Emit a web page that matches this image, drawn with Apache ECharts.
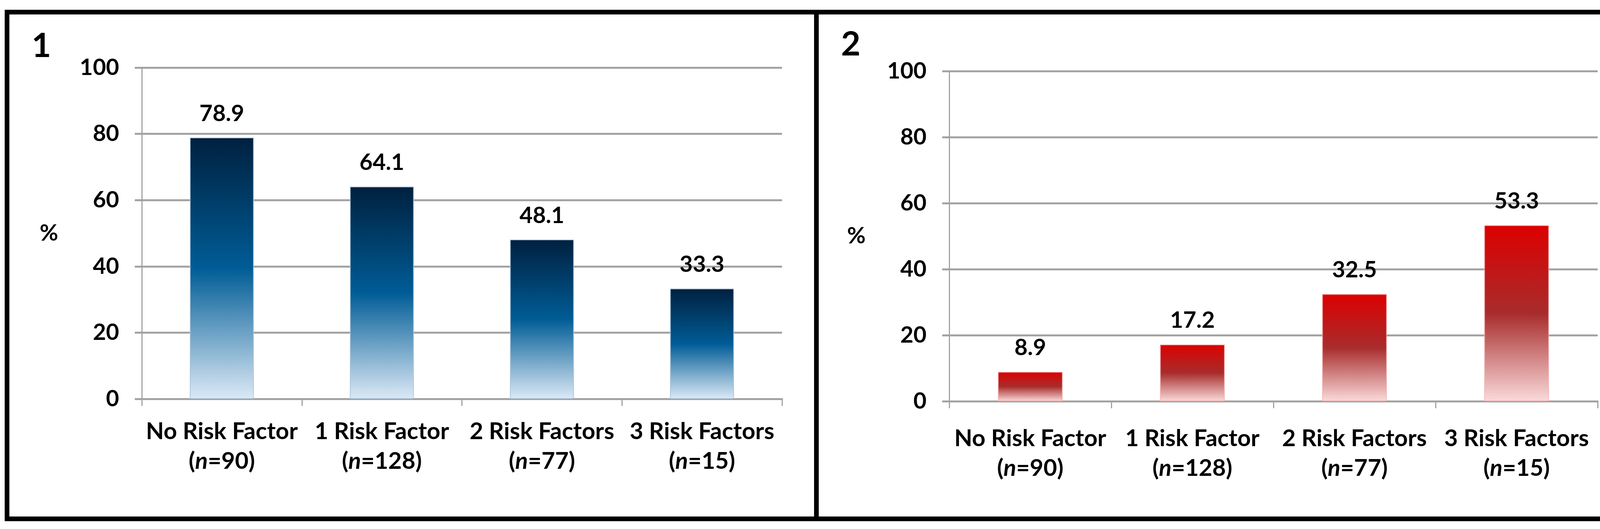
<!DOCTYPE html>
<html>
<head>
<meta charset="utf-8">
<style>
  html, body { margin: 0; padding: 0; background: #ffffff; }
  #chart { width: 4186px; height: 1354px; }
</style>
<script src="https://cdn.jsdelivr.net/npm/echarts@6/dist/echarts.min.js"></script>
</head>
<body>
<div id="chart"></div>
<script>
// ---- data ----
const categories = ['No Risk Factor', '1 Risk Factor', '2 Risk Factors', '3 Risk Factors'];
const sampleSizes = [90, 128, 77, 15];
const panel1Values = [78.9, 64.1, 48.1, 33.3];
const panel2Values = [8.9, 17.2, 32.5, 53.3];
const panelLabels = ['1', '2'];
const yAxisName = '%';
const yMin = 0, yMax = 100, yInterval = 20;

// ---- styling ----
const FONT = "Lato, 'Liberation Sans', sans-serif";
const GRID_GRAY = '#A3A3A3';

const blueGradient = new echarts.graphic.LinearGradient(0, 0, 0, 1, [
  { offset: 0, color: '#00203F' },
  { offset: 0.5, color: '#005C96' },
  { offset: 1, color: '#DCE9F6' }
]);
const redGradient = new echarts.graphic.LinearGradient(0, 0, 0, 1, [
  { offset: 0, color: '#DC0000' },
  { offset: 0.5, color: '#A82C2C' },
  { offset: 1, color: '#FADADA' }
]);

function xAxisFor(gridIndex, margin) {
  return {
    type: 'category',
    gridIndex: gridIndex,
    data: categories,
    axisLine: { show: true, lineStyle: { color: GRID_GRAY, width: 5 } },
    axisTick: { show: true, length: 18, lineStyle: { color: GRID_GRAY, width: 3 } },
    axisLabel: {
      interval: 0,
      margin: margin,
      color: '#000',
      fontFamily: FONT,
      fontSize: 60,
      fontWeight: 'bold',
      lineHeight: 76,
      formatter: function (value, idx) {
        return value + '\n(' + '{i|n}' + '=' + sampleSizes[idx] + ')';
      },
      rich: {
        i: { fontStyle: 'italic', fontWeight: 'bold', fontFamily: FONT, fontSize: 60, lineHeight: 76, color: '#000' }
      }
    }
  };
}

function yAxisFor(gridIndex) {
  return {
    type: 'value',
    gridIndex: gridIndex,
    min: yMin, max: yMax, interval: yInterval,
    name: yAxisName,
    nameLocation: 'middle',
    nameRotate: 0,
    nameGap: 214,
    nameTextStyle: { color: '#000', fontFamily: FONT, fontSize: 58, fontWeight: 'bold',
                     verticalAlign: 'middle', padding: [44, 0, 0, 0] },
    axisLine: { show: true, lineStyle: { color: GRID_GRAY, width: 3 } },
    axisTick: { show: true, length: 18, lineStyle: { color: GRID_GRAY, width: 5 } },
    splitLine: { show: true, lineStyle: { color: GRID_GRAY, width: 5 } },
    axisLabel: { margin: 58, color: '#000', fontFamily: FONT, fontSize: 58, fontWeight: 'bold' }
  };
}

function seriesFor(idx, values, gradient, border) {
  return {
    type: 'bar',
    xAxisIndex: idx,
    yAxisIndex: idx,
    data: values,
    barWidth: '40%',
    itemStyle: { color: gradient, borderColor: border, borderWidth: 2 },
    label: {
      show: true,
      position: 'top',
      distance: 32,
      color: '#000',
      fontFamily: FONT,
      fontSize: 58,
      fontWeight: 'bold',
      formatter: function (p) { return p.value.toFixed(1); }
    }
  };
}

const chart = echarts.init(document.getElementById('chart'), null, { renderer: 'canvas' });
chart.setOption({
  backgroundColor: '#ffffff',
  animation: false,
  title: [
    { text: panelLabels[0], left: 76, top: 70, textStyle: { fontFamily: FONT, fontSize: 86, fontWeight: 'bold', color: '#000' } },
    { text: panelLabels[1], left: 2148, top: 66, textStyle: { fontFamily: FONT, fontSize: 86, fontWeight: 'bold', color: '#000' } }
  ],
  grid: [
    { left: 363, top: 173, width: 1639, height: 848 },
    { left: 2430, top: 182, width: 1660, height: 845 }
  ],
  xAxis: [xAxisFor(0, 46), xAxisFor(1, 58)],
  yAxis: [yAxisFor(0), yAxisFor(1)],
  series: [
    seriesFor(0, panel1Values, blueGradient, 'rgba(170,195,220,0.9)'),
    seriesFor(1, panel2Values, redGradient, 'rgba(245,175,175,0.8)')
  ],
  graphic: [
    { type: 'rect', silent: true, shape: { x: 18, y: 31, width: 4145, height: 1297 },
      style: { fill: 'none', stroke: '#000', lineWidth: 12 } },
    { type: 'line', silent: true, shape: { x1: 2090, y1: 31, x2: 2090, y2: 1328 },
      style: { stroke: '#000', lineWidth: 12 } }
  ]
});
</script>
</body>
</html>
